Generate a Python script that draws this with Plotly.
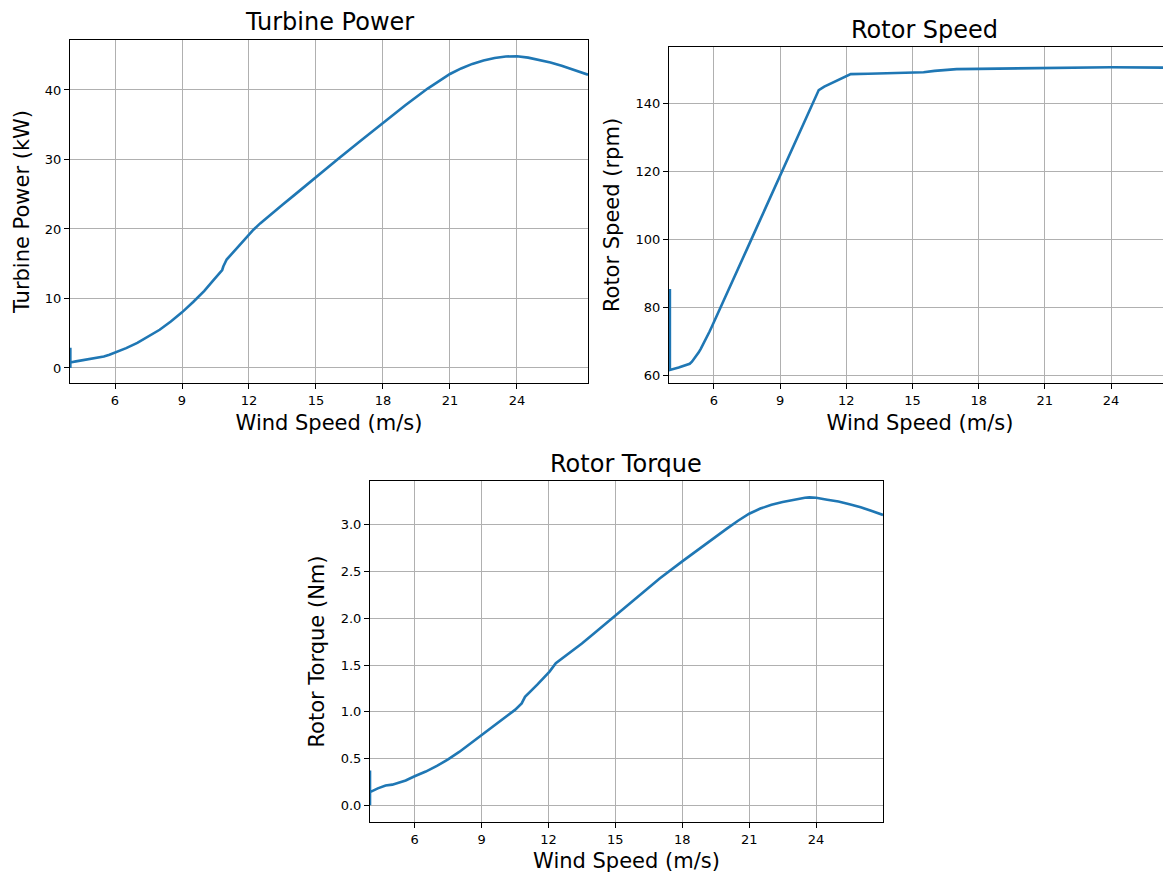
import plotly.graph_objects as go

# ---------------- data ----------------
wind_power = [4.0, 4.0, 4.0, 4.25, 4.5, 4.75, 5.0, 5.25, 5.5, 5.75, 6.0, 6.5, 7.0, 7.5,
              8.0, 8.5, 9.0, 9.5, 10.0, 10.4, 10.8, 10.85, 10.9, 11.0, 11.5, 12.0, 12.2,
              12.5, 13.0, 13.5, 14.0, 15.0, 16.0, 17.0, 18.0, 19.0, 20.0, 20.5, 21.0,
              21.5, 22.0, 22.5, 23.0, 23.5, 23.8, 24.0, 24.5, 25.0, 25.5, 26.0, 26.5,
              27.18]
turbine_power = [0.0, 2.9, 0.8, 0.95, 1.1, 1.2, 1.3, 1.45, 1.65, 1.9, 2.2, 2.85, 3.6,
                 4.5, 5.5, 6.7, 8.0, 9.5, 11.1, 12.6, 14.1, 14.6, 15.0, 15.6, 17.4, 19.2,
                 19.9, 20.8, 22.2, 23.5, 24.8, 27.5, 30.1, 32.7, 35.3, 37.8, 40.2, 41.3,
                 42.3, 43.1, 43.75, 44.25, 44.6, 44.82, 44.9, 44.85, 44.65, 44.35, 43.95,
                 43.5, 42.95, 42.2]

wind_speed_rs = [4.0, 4.0, 4.0, 4.4, 4.8, 4.9, 5.0, 5.1, 5.2, 5.3, 5.4, 5.5, 5.6, 5.7,
                 5.8, 5.9, 6.0, 6.5, 7.0, 7.5, 8.0, 8.5, 9.0, 9.5, 10.0, 10.5, 10.75,
                 11.0, 11.5, 12.0, 12.2, 13.0, 14.0, 15.0, 15.5, 16.0, 16.5, 17.0, 18.0,
                 20.0, 22.0, 24.0, 26.8]
rotor_speed = [61.5, 85.3, 61.5, 62.2, 62.9, 63.3, 63.9, 64.7, 65.6, 66.6, 67.7, 68.9,
               70.2, 71.5, 72.8, 74.2, 75.6, 82.7, 89.9, 97.1, 104.3, 111.4, 118.6,
               125.8, 133.0, 140.2, 143.8, 144.8, 146.3, 147.8, 148.5, 148.6, 148.7,
               148.9, 149.05, 149.45, 149.8, 149.95, 150.05, 150.25, 150.4, 150.5, 150.4]

wind_torque = [4.0, 4.0, 4.0, 4.35, 4.7, 5.0, 5.3, 5.6, 6.0, 6.5, 7.0, 7.5, 8.0, 8.5,
               9.0, 9.5, 10.0, 10.5, 10.8, 10.87, 10.95, 11.5, 12.05, 12.33, 13.0, 13.5,
               14.0, 15.0, 16.0, 17.0, 18.0, 19.0, 19.5, 20.0, 20.5, 21.0, 21.5, 22.0,
               22.5, 23.0, 23.5, 23.7, 24.0, 24.5, 25.0, 25.5, 26.0, 26.5, 27.0]
rotor_torque = [0.0, 0.37, 0.14, 0.18, 0.21, 0.22, 0.24, 0.265, 0.31, 0.36, 0.42, 0.49,
                0.57, 0.66, 0.75, 0.84, 0.93, 1.02, 1.09, 1.13, 1.16, 1.29, 1.43, 1.52,
                1.64, 1.73, 1.83, 2.03, 2.23, 2.43, 2.61, 2.79, 2.87, 2.96, 3.045, 3.12,
                3.175, 3.215, 3.245, 3.27, 3.29, 3.295, 3.29, 3.27, 3.25, 3.22, 3.19,
                3.15, 3.107]

x_ticks = [6, 9, 12, 15, 18, 21, 24]
power_ticks = [0, 10, 20, 30, 40]
speed_ticks = [60, 80, 100, 120, 140]
torque_ticks = [0.0, 0.5, 1.0, 1.5, 2.0, 2.5, 3.0]
torque_labels = ["0.0", "0.5", "1.0", "1.5", "2.0", "2.5", "3.0"]

# ---------------- figure ----------------
OFF = 8  # page body margin in the browser
W, H = 1171 - OFF, 873 - OFF
FONT = "DejaVu Sans"
BLUE = "#1f77b4"
GRID = "#b0b0b0"


def px_x(p):
    return (p - OFF) / W


def px_y(p):
    return (H - (p - OFF)) / H


fig = go.Figure()
fig.add_trace(go.Scatter(x=wind_power, y=turbine_power, mode="lines",
                         line=dict(color=BLUE, width=2.6), xaxis="x", yaxis="y",
                         showlegend=False))
fig.add_trace(go.Scatter(x=wind_speed_rs, y=rotor_speed, mode="lines",
                         line=dict(color=BLUE, width=2.6), xaxis="x2", yaxis="y2",
                         showlegend=False))
fig.add_trace(go.Scatter(x=wind_torque, y=rotor_torque, mode="lines",
                         line=dict(color=BLUE, width=2.6), xaxis="x3", yaxis="y3",
                         showlegend=False))

common = dict(showgrid=True, gridcolor=GRID, gridwidth=1, showline=True,
              linecolor="black", linewidth=1, ticks="outside", ticklen=5,
              tickwidth=1, tickcolor="black", zeroline=False,
              tickfont=dict(family=FONT, size=13, color="black"))

xtitle = dict(text="Wind Speed (m/s)", font=dict(family=FONT, size=21, color="black"),
              standoff=8)


def ytitle(text, standoff):
    return dict(text=text, font=dict(family=FONT, size=21, color="black"),
                standoff=standoff)


fig.update_layout(
    width=W, height=H,
    margin=dict(l=0, r=0, t=0, b=0),
    paper_bgcolor="white", plot_bgcolor="white",
    font=dict(family=FONT, color="black"),
    xaxis=dict(domain=[px_x(70), px_x(588)], range=[3.985, 27.18], tickvals=x_ticks,
               anchor="y", mirror=True, title=xtitle, **common),
    yaxis=dict(domain=[px_y(383), px_y(40)], range=[-2.16, 47.19], tickvals=power_ticks,
               anchor="x", mirror=True, title=ytitle("Turbine Power (kW)", 9), **common),
    xaxis2=dict(domain=[px_x(669), 1.0], range=[3.96, 26.72], tickvals=x_ticks,
                anchor="y2", mirror=True, title=xtitle, **common),
    yaxis2=dict(domain=[px_y(383), px_y(47)], range=[57.65, 156.47], tickvals=speed_ticks,
                anchor="x2", mirror=False, title=ytitle("Rotor Speed (rpm)", 10), **common),
    xaxis3=dict(domain=[px_x(370), px_x(883)], range=[4.0, 27.0], tickvals=x_ticks,
                anchor="y3", mirror=True, title=xtitle, **common),
    yaxis3=dict(domain=[px_y(822), px_y(481)], range=[-0.18, 3.47], tickvals=torque_ticks,
                ticktext=torque_labels, anchor="x3", mirror=True,
                title=ytitle("Rotor Torque (Nm)", 10), **common),
)

titles = [("Turbine Power", 329, 22), ("Rotor Speed", 924, 30), ("Rotor Torque", 626, 464)]
for text, cx, cy in titles:
    fig.add_annotation(text=text, x=px_x(cx), y=px_y(cy), xref="paper", yref="paper",
                       xanchor="center", yanchor="middle", showarrow=False,
                       font=dict(family=FONT, size=24, color="black"))

fig.write_html("out.html")
